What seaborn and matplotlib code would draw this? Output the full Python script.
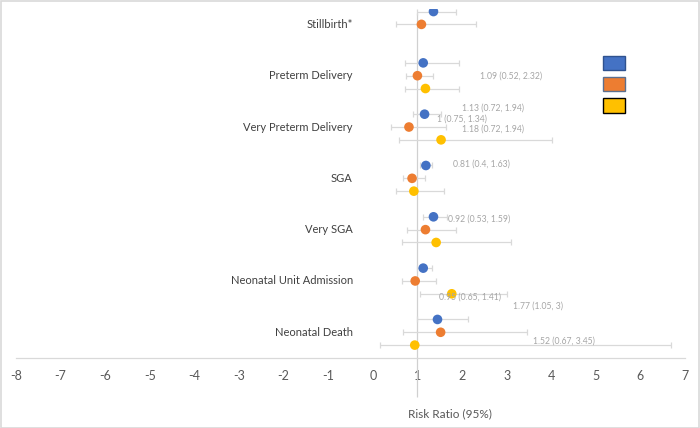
import numpy as np
import pandas as pd
import seaborn as sns
import matplotlib.pyplot as plt
from matplotlib.patches import Patch, Rectangle

# outcomes, top to bottom
outcomes = ['Stillbirth*', 'Preterm Delivery', 'Very Preterm Delivery', 'SGA',
            'Very SGA', 'Neonatal Unit Admission', 'Neonatal Death']

# risk ratio and 95% CI per series
blue_rr = [1.36, 1.13, 1.16, 1.19, 1.36, 1.13, 1.45]
blue_lo = [0.98, 0.72, 0.89, 1.05, 1.13, 0.98, 0.98]
blue_hi = [1.86, 1.94, 1.52, 1.32, 1.66, 1.33, 2.14]

orange_rr = [1.09, 1.00, 0.81, 0.88, 1.18, 0.95, 1.52]
orange_lo = [0.52, 0.75, 0.40, 0.67, 0.77, 0.65, 0.67]
orange_hi = [2.32, 1.34, 1.63, 1.18, 1.86, 1.41, 3.45]

yellow_rr = [np.nan, 1.18, 1.53, 0.92, 1.42, 1.77, 0.94]
yellow_lo = [np.nan, 0.72, 0.59, 0.53, 0.66, 1.05, 0.15]
yellow_hi = [np.nan, 1.94, 4.02, 1.59, 3.09, 3.00, 6.69]

# data labels as they sit on the chart
label_texts = ['1.09 (0.52, 2.32)', '1.13 (0.72, 1.94)', '1 (0.75, 1.34)',
               '1.18 (0.72, 1.94)', '0.81 (0.4, 1.63)', '0.92 (0.53, 1.59)',
               '0.95 (0.65, 1.41)', '1.77 (1.05, 3)', '1.52 (0.67, 3.45)']
label_x = [2.40, 2.01, 1.45, 2.01, 1.79, 1.69, 1.48, 3.14, 3.60]
label_y = [6.00, 5.37, 5.16, 4.96, 4.27, 3.20, 1.69, 1.51, 0.83]

x_ticks = list(range(-8, 8))

colors = {'blue': '#4472C4', 'orange': '#ED7D31', 'yellow': '#FFC000'}
offsets = {'blue': 0.25, 'orange': 0.0, 'yellow': -0.25}

n = len(outcomes)
rows = []
for name, rr, lo, hi in [('blue', blue_rr, blue_lo, blue_hi),
                         ('orange', orange_rr, orange_lo, orange_hi),
                         ('yellow', yellow_rr, yellow_lo, yellow_hi)]:
    for i in range(n):
        rows.append({'series': name, 'outcome': outcomes[i],
                     'y': n - i + offsets[name], 'rr': rr[i], 'lo': lo[i], 'hi': hi[i]})
df = pd.DataFrame(rows).dropna()

sns.set_style('white')
plt.rcParams['font.family'] = ['Lato', 'DejaVu Sans']

fig = plt.figure(figsize=(7, 4.28), dpi=100)
ax = fig.add_axes([0.0229, 0.0678, 0.9557, 0.9112])

# error bars
ax.errorbar(df['rr'], df['y'], xerr=[df['rr'] - df['lo'], df['hi'] - df['rr']],
            fmt='none', ecolor='#d9d9d9', elinewidth=0.9, capsize=2.5, capthick=0.9, zorder=2)

sns.scatterplot(data=df, x='rr', y='y', hue='series', palette=colors, s=48,
                edgecolor='none', legend=False, ax=ax, zorder=3)

# vertical axis line at RR = 1
ax.vlines(1, -0.27, 7.22, color='#d0d0d0', lw=0.9, zorder=1)

for i, name in enumerate(outcomes):
    ax.text(-0.45, n - i, name, ha='right', va='center', fontsize=8, color='#404040')

for t, x, y in zip(label_texts, label_x, label_y):
    ax.text(x, y, t, ha='left', va='center', fontsize=6.2, color='#a6a6a6')

ax.set_xlim(-8, 7)
ax.set_ylim(-0.3, 7.3)
ax.set_xticks(x_ticks)
ax.set_xticklabels([str(v) for v in x_ticks])
ax.set_yticks([])
ax.set_xlabel('')
ax.set_ylabel('')
for s in ['top', 'right', 'left']:
    ax.spines[s].set_visible(False)
ax.spines['bottom'].set_position(('data', 0.5))
ax.spines['bottom'].set_color('#d9d9d9')
ax.spines['bottom'].set_linewidth(0.9)
ax.tick_params(axis='x', length=0, pad=8.5, labelsize=9, labelcolor='#595959')
ax.patch.set_alpha(0)

ax.text(1.72, -0.58, 'Risk Ratio (95%)', ha='center', va='center', fontsize=8.5, color='#595959')

# legend boxes without names
handles = [Patch(facecolor=colors['blue'], edgecolor='#2F528F', lw=1.0),
           Patch(facecolor=colors['orange'], edgecolor='#5B6F8F', lw=1.0),
           Patch(facecolor=colors['yellow'], edgecolor='#000000', lw=1.0)]
fig.legend(handles, ['', '', ''], loc='upper left', bbox_to_anchor=(0.861, 0.869),
           frameon=False, fontsize=10, handlelength=1.58, handleheight=1.2,
           labelspacing=0.5, borderpad=0, borderaxespad=0, handletextpad=0)

# chart border
fig.patches.append(Rectangle((0.001, 0.001), 0.998, 0.997, transform=fig.transFigure,
                             fill=False, edgecolor='#d9d9d9', lw=1.2))

fig.savefig('out.png', dpi=100)
